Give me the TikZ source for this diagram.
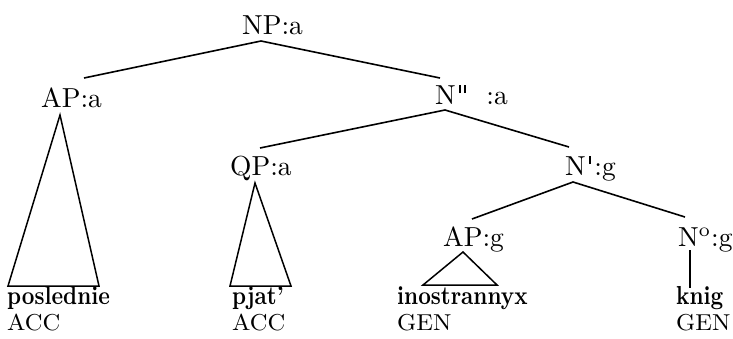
\documentclass[tikz,border=0pt]{standalone}
\usepackage{graphicx}
\newcommand\lab[1]{\scalebox{2.75}{\fontsize{10}{12}\selectfont #1}}
\newcommand\leaf[1]{\scalebox{2.2}[2.6]{\fontsize{10}{12}\selectfont\bfseries #1}}
\newcommand\cas[1]{\scalebox{2.45}[2.3]{\fontsize{10}{12}\selectfont #1}}
\newcommand\pmark{\rule[0.40em]{0.07em}{0.28em}}
\begin{document}
\begin{tikzpicture}[x=1pt,y=-1pt,
  cat/.style={inner sep=0pt,anchor=base west},
  word/.style={inner sep=0pt,anchor=base west},
  edge/.style={line width=1.6pt,line join=miter},
  tri/.style={line width=1.5pt,line join=miter}]
\useasboundingbox (0,0) rectangle (733,338);
% category labels
\node[cat] (NP)  at (242,34)  {\lab{NP:a}};
\node[cat] (APa) at (41,107)  {\lab{AP:a}};
\node[cat] (Npp) at (435,104) {\lab{N\kern0.12em\pmark\kern0.1em\pmark\kern0.75em:a}};
\node[cat] (QP)  at (230,175) {\lab{QP:a}};
\node[cat] (Np)  at (565,175) {\lab{N\kern0.12em\pmark\kern0.12em:g}};
\node[cat] (APg) at (443,246) {\lab{AP:g}};
\node[cat] (N0)  at (678,246) {\lab{N\textsuperscript{o}:g}};
% leaves
\node[word] (w1) at (7,304)   {\leaf{poslednie}};
\node[word] (c1) at (7,330)   {\cas{ACC}};
\node[word] (w2) at (232,304) {\leaf{pjat'}};
\node[word] (c2) at (232,330) {\cas{ACC}};
\node[word] (w3) at (397,304) {\leaf{inostrannyx}};
\node[word] (c3) at (397,330) {\cas{GEN}};
\node[word] (w4) at (676,304) {\leaf{knig}};
\node[word] (c4) at (676,330) {\cas{GEN}};
% attachment points
\coordinate (NPb)  at (261,41);
\coordinate (APat) at (84,78);
\coordinate (Nppt) at (440,78);
\coordinate (Nppb) at (445,110);
\coordinate (QPt)  at (260,148);
\coordinate (Npt)  at (569,147);
\coordinate (Npb)  at (573,182);
\coordinate (APgt) at (472,219);
\coordinate (N0t)  at (685,217);
\coordinate (N0b)  at (690,250);
\coordinate (w4t)  at (690,288);
% edges
\draw[edge] (APat) -- (NPb) -- (Nppt);
\draw[edge] (QPt) -- (Nppb) -- (Npt);
\draw[edge] (APgt) -- (Npb) -- (N0t);
\draw[edge] (N0b) -- (w4t);
% triangles
\draw[tri] (60,115) -- (99,286) -- (8,286) -- cycle;
\draw[tri] (255,183) -- (291,286) -- (230,286) -- cycle;
\draw[tri] (463,252) -- (497,285) -- (423,285) -- cycle;
\end{tikzpicture}
\end{document}
